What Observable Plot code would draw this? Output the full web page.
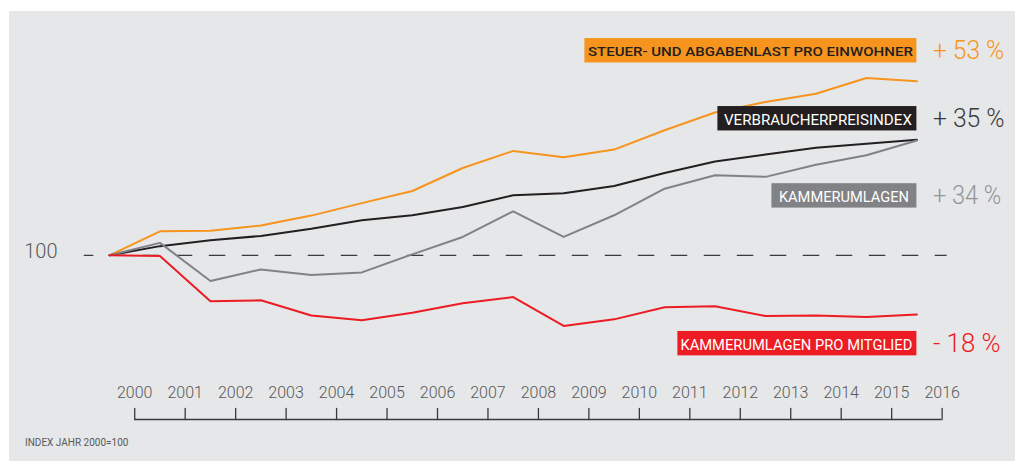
<!DOCTYPE html>
<html><head><meta charset="utf-8">
<script src="https://cdn.jsdelivr.net/npm/d3@7"></script>
<script src="https://cdn.jsdelivr.net/npm/@observablehq/plot@0.6"></script>
<style>
html,body{margin:0;padding:0;background:#fff;}
#chart{position:absolute;left:9px;top:11px;width:1006px;height:450px;background:#e6e7e8;overflow:hidden;}
#chart figure{margin:0;}
#chart figcaption{font:10px Roboto, sans-serif;color:#58595b;margin:6px 0 0 16px;line-height:12px;}
</style></head><body><div id="chart"></div>
<script>
// ---- data ----
const years = [2000,2001,2002,2003,2004,2005,2006,2007,2008,2009,2010,2011,2012,2013,2014,2015,2016];
const tickLabels = ["2000","2001","2002","2003","2004","2005","2006","2007","2008","2009","2010","2011","2012","2013","2014","2015","2016"];
const steuerProEinwohner = [100,107.3,107.5,109.1,112.1,115.9,119.6,126.6,131.8,129.9,132.2,138.1,143.5,146.7,149.2,154.0,153.0];
const verbraucherpreisindex = [100,102.8,104.6,105.9,108.1,110.7,112.2,114.7,118.3,118.9,121.1,125.1,128.6,130.7,132.8,134.0,135.2];
const kammerumlagen = [100,103.8,92.2,95.7,94.0,94.8,100.3,105.6,113.4,105.6,112.2,120.3,124.4,123.9,127.6,130.5,135.0];
const kammerumlagenProMitglied = [100,99.8,86.0,86.3,81.7,80.2,82.5,85.4,87.3,78.5,80.5,84.2,84.5,81.5,81.7,81.2,82.0];
const seriesNames = ["STEUER- UND ABGABENLAST PRO EINWOHNER","VERBRAUCHERPREISINDEX","KAMMERUMLAGEN","KAMMERUMLAGEN PRO MITGLIED"];
const seriesValues = [steuerProEinwohner, verbraucherpreisindex, kammerumlagen, kammerumlagenProMitglied];
const changeLabels = ["+ 53 %","+ 35 %","+ 34 %","- 18 %"];
const baseValue = 100;
const captionText = "INDEX JAHR 2000=100";

// ---- annotation placement / styles ----
const labelY = [162.3, 141.6, 118.1, 73.1];
const seriesColors = ["#f7941d","#231f20","#808285","#ed1c24"];
const boxTextColors = ["#231f20","#ffffff","#ffffff","#ffffff"];
const pctColors = ["#f7941d","#3a3a3a","#939598","#ed1c24"];
const boxTextSize = [13, 15.5, 14, 15.5];
const boxTextWeight = [500, 400, 400, 400];
const boxTextWidth = [325, 188, 130, 232];
const boxPadRight = [4, 5, 8, 4.5];
const boxWidth = [332, 199, 145, 239];
const pctWidth = [71.3, 71.7, 68.4, 67.7];

const rows = seriesNames.flatMap((name, k) => years.map((year, i) => ({series: name, year, value: seriesValues[k][i]})));
const labelRows = seriesNames.map((name, k) => ({k, name, y: labelY[k], pct: changeLabels[k]}));
const lastYear = years[years.length - 1];
const tickPos = tickLabels.map(d => +d + 0.5);

const tickShape = {draw(context, l) { context.moveTo(0, 0); context.lineTo(0, -l); }};

const boxes = (index, scales) => {
  const g = d3.create("svg:g").attr("aria-label", "label-boxes");
  labelRows.forEach(d => {
    const right = scales.x(lastYear);
    g.append("rect")
      .attr("x", right - boxWidth[d.k])
      .attr("y", scales.y(d.y) - 12.2)
      .attr("width", boxWidth[d.k])
      .attr("height", 24.4)
      .attr("fill", seriesColors[d.k]);
  });
  return g.node();
};

const chart = Plot.plot({
  width: 1006,
  height: 420,
  marginLeft: 100,
  marginRight: 98.6,
  marginTop: 14,
  marginBottom: 12,
  x: {domain: [2000, 2016], axis: null},
  y: {domain: [50, 170], axis: null},
  color: {domain: seriesNames, range: seriesColors},
  style: {background: "transparent", fontFamily: "Roboto, sans-serif", overflow: "visible"},
  caption: captionText,
  marks: [
    Plot.ruleY([baseValue], {x1: years[0] - 0.5, x2: 2016.6, stroke: "#3a3a3a", strokeWidth: 1.3, strokeDasharray: "16.5,16.5", strokeDashoffset: 7}),
    Plot.text([{x: years[0], y: baseValue}], {x: "x", y: "y", text: d => String(d.y), textAnchor: "end", dx: -52, lineAnchor: "bottom", dy: 3, fontSize: 20, fontWeight: 300, fill: "#58595b"}),
    Plot.line(rows, {x: "year", y: "value", z: "series", stroke: "series", strokeWidth: 2, strokeLinejoin: "miter"}),
    boxes,
    ...labelRows.map(d => Plot.text([d], {x: () => lastYear, y: "y", text: "name", textAnchor: "end", dx: -boxPadRight[d.k], dy: 1.5, lineAnchor: "middle", fontSize: boxTextSize[d.k], fontWeight: boxTextWeight[d.k], fill: boxTextColors[d.k]})),
    ...labelRows.map(d => Plot.text([d], {x: () => lastYear, y: "y", text: "pct", textAnchor: "start", dx: 16, lineAnchor: "middle", fontSize: 25, fontWeight: 300, fill: pctColors[d.k]})),
    Plot.ruleY([50], {x1: tickPos[0], x2: tickPos[tickPos.length - 1], stroke: "#3a3a3a", strokeWidth: 1.3}),
    Plot.vector(tickPos, {x: d => d, frameAnchor: "bottom", length: 11, rotate: 0, anchor: "start", shape: tickShape, stroke: "#3a3a3a", strokeWidth: 1.3}),
    Plot.text(tickLabels, {x: d => +d + 0.5, frameAnchor: "bottom", text: d => d, lineAnchor: "bottom", dy: -22, fontSize: 16, fontWeight: 300, fill: "#58595b"})
  ]
});
document.getElementById("chart").appendChild(chart);
const svg = chart.tagName.toLowerCase() === "svg" ? chart : chart.querySelector("svg");
const allText = Array.from(svg.querySelectorAll("text"));
labelRows.forEach(d => {
  allText.filter(t => t.textContent === d.name).forEach(t => {
    t.setAttribute("textLength", boxTextWidth[d.k]);
    t.setAttribute("lengthAdjust", "spacingAndGlyphs");
  });
  allText.filter(t => t.textContent === d.pct).forEach(t => {
    t.setAttribute("textLength", pctWidth[d.k]);
    t.setAttribute("lengthAdjust", "spacingAndGlyphs");
  });
});
</script></body></html>
